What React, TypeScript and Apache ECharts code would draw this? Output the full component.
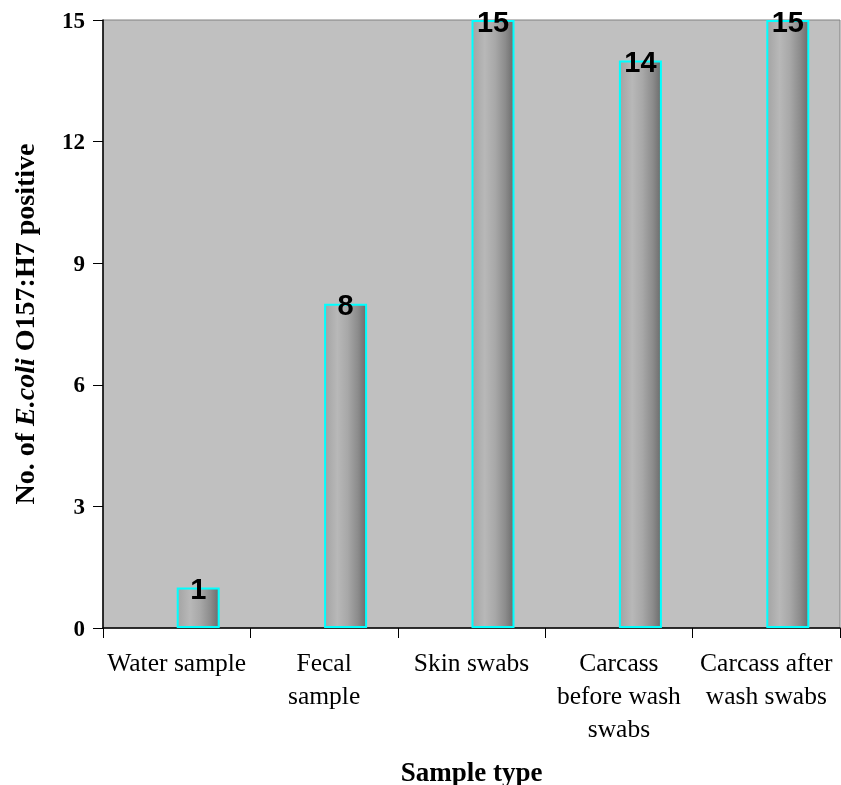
import React, { useEffect, useRef } from "react";
import * as echarts from "echarts";

const categories = [
  "Water sample",
  "Fecal\nsample",
  "Skin swabs",
  "Carcass\nbefore wash\nswabs",
  "Carcass after\nwash swabs",
];
const positives = [1, 8, 15, 14, 15];
const spacer = [null, null, null, null, null];
const yTicks = { min: 0, max: 15, interval: 3 };

export default function App() {
  const ref = useRef<HTMLDivElement>(null);
  useEffect(() => {
    const chart = echarts.init(ref.current!, null, { renderer: "svg" });
    const barFill = new echarts.graphic.LinearGradient(0, 0, 1, 0, [
      { offset: 0, color: "#a4a4a4" },
      { offset: 0.3, color: "#b8b8b8" },
      { offset: 0.55, color: "#a8a8a8" },
      { offset: 0.8, color: "#8c8c8c" },
      { offset: 1, color: "#6c6c6c" },
    ]);
    chart.setOption({
      animation: false,
      grid: {
        left: 103,
        right: 1,
        top: 20,
        bottom: 157,
        show: true,
        backgroundColor: "#c0c0c0",
        borderColor: "#808080",
        borderWidth: 1,
        outerBoundsMode: "none",
        containLabel: false,
      },
      xAxis: {
        type: "category",
        data: categories,
        name: "Sample type",
        nameLocation: "middle",
        nameGap: 130,
        nameTextStyle: {
          fontFamily: "Liberation Serif",
          fontWeight: "bold",
          fontSize: 27,
          color: "#000",
        },
        axisLine: { lineStyle: { color: "#000", width: 1.5 } },
        axisTick: { show: true, length: 10, lineStyle: { color: "#000" } },
        axisLabel: {
          interval: 0,
          margin: 18,
          fontFamily: "Liberation Serif",
          fontSize: 25.5,
          lineHeight: 33,
          color: "#000",
        },
      },
      yAxis: {
        type: "value",
        min: yTicks.min,
        max: yTicks.max,
        interval: yTicks.interval,
        name: "{b|No. of }{i|E.coli}{b| O157:H7 positive}",
        nameLocation: "middle",
        nameGap: 65,
        nameTextStyle: {
          rich: {
            b: {
              fontFamily: "Liberation Serif",
              fontWeight: "bold",
              fontSize: 28,
              color: "#000",
            },
            i: {
              fontFamily: "Liberation Serif",
              fontWeight: "bold",
              fontStyle: "italic",
              fontSize: 28,
              color: "#000",
            },
          },
        },
        axisLine: { show: true, lineStyle: { color: "#000", width: 1.5 } },
        axisTick: { show: true, length: 10, lineStyle: { color: "#000" } },
        splitLine: { show: false },
        axisLabel: {
          margin: 18,
          fontFamily: "Liberation Serif",
          fontWeight: "bold",
          fontSize: 23,
          color: "#000",
        },
      },
      series: [
        {
          type: "bar",
          data: spacer,
          barWidth: 43,
          barGap: "0%",
          silent: true,
        },
        {
          type: "bar",
          data: positives,
          barWidth: 43,
          barGap: "0%",
          itemStyle: {
            color: barFill,
            borderColor: "#00ffff",
            borderWidth: 2,
          },
          label: {
            show: true,
            position: "top",
            distance: -16,
            fontFamily: "Liberation Sans",
            fontWeight: "bold",
            fontSize: 29,
            color: "#000",
          },
        },
      ],
    });
    return () => chart.dispose();
  }, []);
  return (
    <div
      ref={ref}
      style={{ position: "fixed", left: 0, top: 0, width: 841, height: 785 }}
    />
  );
}
